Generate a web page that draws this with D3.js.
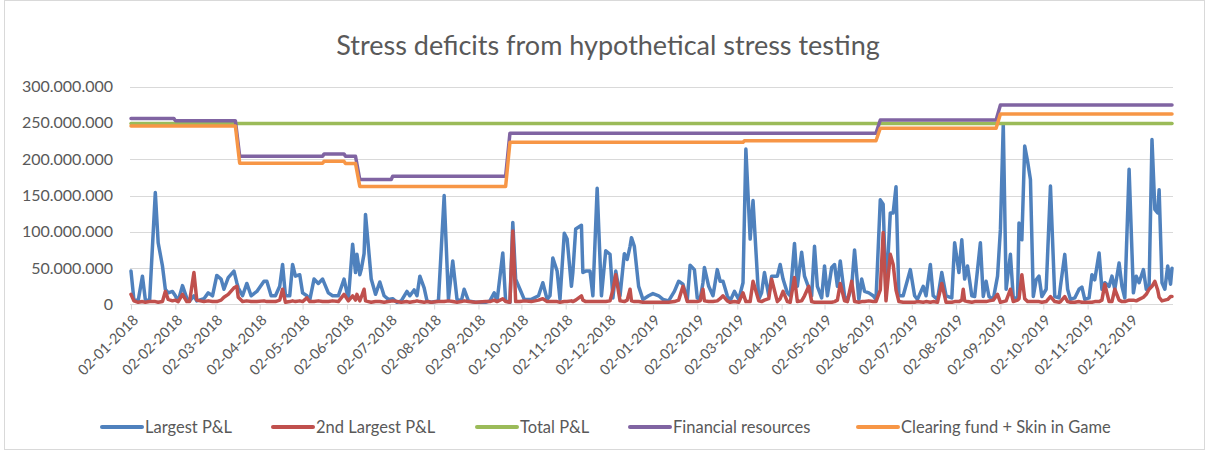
<!DOCTYPE html>
<html>
<head>
<meta charset="utf-8">
<script src="https://cdn.jsdelivr.net/npm/d3@7/dist/d3.min.js"></script>
<style>
  body { margin: 0; background: #fff; }
  text { font-family: Lato, "Open Sans", sans-serif; fill: #595959; }
</style>
</head>
<body>
<div id="chart"></div>
<script>

// daily P&L samples, values in millions
const pnlDates = [
  "2018-01-02","2018-01-04","2018-01-07","2018-01-10","2018-01-12","2018-01-15","2018-01-19","2018-01-21","2018-01-24","2018-01-26","2018-01-28","2018-01-31",
  "2018-02-02","2018-02-04","2018-02-07","2018-02-10","2018-02-12","2018-02-15","2018-02-17","2018-02-22","2018-02-25","2018-02-28",
  "2018-03-03","2018-03-06","2018-03-08","2018-03-11","2018-03-15","2018-03-17","2018-03-18","2018-03-21","2018-03-24","2018-03-27","2018-03-31",
  "2018-04-05","2018-04-07","2018-04-10","2018-04-13","2018-04-16","2018-04-18","2018-04-20","2018-04-23","2018-04-25","2018-04-27","2018-04-30",
  "2018-05-02","2018-05-05","2018-05-07","2018-05-10","2018-05-13","2018-05-16","2018-05-20","2018-05-23","2018-05-27","2018-05-31",
  "2018-06-03","2018-06-06","2018-06-08","2018-06-09","2018-06-11","2018-06-12","2018-06-14","2018-06-15","2018-06-17","2018-06-19","2018-06-22","2018-06-25","2018-06-28",
  "2018-07-01","2018-07-04","2018-07-07","2018-07-10","2018-07-14","2018-07-16","2018-07-19","2018-07-21","2018-07-23","2018-07-26","2018-07-28","2018-07-31",
  "2018-08-05","2018-08-09","2018-08-12","2018-08-15","2018-08-18","2018-08-21","2018-08-23","2018-08-26","2018-08-31",
  "2018-09-07","2018-09-10","2018-09-13","2018-09-15","2018-09-19","2018-09-21","2018-09-24","2018-09-26","2018-09-28",
  "2018-10-01","2018-10-04","2018-10-09","2018-10-14","2018-10-17","2018-10-20","2018-10-22","2018-10-24","2018-10-27","2018-10-29",
  "2018-11-01","2018-11-03","2018-11-06","2018-11-07","2018-11-09","2018-11-13","2018-11-14","2018-11-16","2018-11-19","2018-11-21","2018-11-24","2018-11-27","2018-11-30",
  "2018-12-03","2018-12-05","2018-12-07","2018-12-10","2018-12-13","2018-12-15","2018-12-17","2018-12-18","2018-12-20","2018-12-23","2018-12-26","2018-12-30",
  "2019-01-02","2019-01-06","2019-01-09","2019-01-13","2019-01-17","2019-01-20","2019-01-23","2019-01-26","2019-01-28","2019-01-31",
  "2019-02-02","2019-02-04","2019-02-06","2019-02-07","2019-02-10","2019-02-13","2019-02-16","2019-02-18","2019-02-20","2019-02-23","2019-02-25","2019-02-28",
  "2019-03-03","2019-03-06","2019-03-08","2019-03-11","2019-03-13","2019-03-17","2019-03-19","2019-03-21","2019-03-24","2019-03-26","2019-03-30",
  "2019-04-01","2019-04-03","2019-04-06","2019-04-08","2019-04-11","2019-04-13","2019-04-16","2019-04-18","2019-04-21","2019-04-23","2019-04-25","2019-04-27","2019-04-30",
  "2019-05-02","2019-05-04","2019-05-07","2019-05-09","2019-05-11","2019-05-13","2019-05-16","2019-05-18","2019-05-21","2019-05-23","2019-05-26","2019-05-28","2019-05-30",
  "2019-06-02","2019-06-05","2019-06-07","2019-06-10","2019-06-12","2019-06-14","2019-06-17","2019-06-19","2019-06-21","2019-06-23","2019-06-26",
  "2019-07-01","2019-07-04","2019-07-06","2019-07-10","2019-07-12","2019-07-15","2019-07-17","2019-07-20","2019-07-23","2019-07-26","2019-07-30",
  "2019-08-01","2019-08-04","2019-08-06","2019-08-07","2019-08-08","2019-08-10","2019-08-13","2019-08-15","2019-08-19","2019-08-21","2019-08-23","2019-08-25","2019-08-28","2019-08-31",
  "2019-09-02","2019-09-04","2019-09-06","2019-09-09","2019-09-11","2019-09-14","2019-09-15","2019-09-17","2019-09-19","2019-09-21","2019-09-23","2019-09-25","2019-09-27","2019-09-29",
  "2019-10-01","2019-10-04","2019-10-07","2019-10-10","2019-10-13","2019-10-14","2019-10-17","2019-10-19","2019-10-21","2019-10-24","2019-10-27","2019-10-29","2019-10-31",
  "2019-11-03","2019-11-05","2019-11-07","2019-11-10","2019-11-12","2019-11-14","2019-11-17","2019-11-19","2019-11-21","2019-11-24","2019-11-26","2019-11-28",
  "2019-12-01","2019-12-04","2019-12-06","2019-12-08","2019-12-11","2019-12-13","2019-12-15","2019-12-17","2019-12-19","2019-12-21","2019-12-22","2019-12-24","2019-12-26","2019-12-28","2019-12-30","2019-12-31"
];

const largestPnl = [
  46,7,5,39,7,5,154,85,53,21,16,18,
  12,5,26,9,5,12,5,8,16,12,
  40,35,21,37,46,30,23,12,29,12,18,
  32,32,12,12,25,55,12,12,55,39,41,
  16,12,6,35,29,35,16,12,12,35,
  7,83,44,69,41,48,70,124,80,35,14,31,12,
  7,8,3,5,18,12,20,12,39,23,5,3,
  5,150,7,60,7,5,21,5,3,
  3,5,16,5,71,5,3,113,35,
  21,7,7,12,30,7,12,64,46,7,
  98,90,25,44,104,109,44,46,46,12,160,12,74,
  69,9,46,12,70,62,80,92,80,25,7,12,
  15,12,7,5,18,32,28,6,54,48,
  9,7,30,51,25,12,48,32,32,12,5,18,
  7,30,214,90,143,7,16,44,12,39,39,
  55,35,16,12,84,25,72,39,23,12,80,25,9,
  53,12,51,55,25,60,12,5,25,75,7,35,18,
  16,12,7,144,138,12,126,126,162,12,12,
  48,12,7,25,12,55,12,7,44,12,9,
  85,44,89,60,35,53,12,11,85,11,32,11,7,39,
  103,248,21,69,9,9,112,89,218,197,172,11,34,39,
  11,21,163,11,9,25,69,21,7,9,21,24,7,
  9,41,34,71,21,30,25,39,21,57,25,9,
  186,16,39,30,48,21,25,227,131,126,158,30,21,53,28,50
];

const secondPnl = [
  14,5,3,4,3,4,4,3,4,18,7,5,
  6,4,14,4,4,44,6,4,5,4,
  4,6,10,14,23,25,10,4,5,4,4,
  5,4,4,4,6,21,3,4,5,4,5,
  4,9,4,4,5,4,4,5,4,14,
  5,12,6,14,5,10,21,5,4,3,4,4,3,
  4,5,4,3,4,3,4,5,4,3,4,3,
  4,4,5,4,3,4,5,4,3,
  4,4,6,4,8,4,3,101,4,
  4,5,4,6,8,4,4,4,4,3,
  4,4,5,4,6,12,6,4,4,4,4,4,4,
  5,20,41,5,4,6,21,5,4,4,3,3,
  3,3,3,3,4,6,25,4,4,4,
  4,5,21,5,4,4,5,8,12,5,3,4,
  3,16,4,4,32,5,4,6,8,35,4,
  8,18,4,3,37,4,5,12,25,4,3,3,3,
  3,3,3,4,6,29,5,4,32,4,3,4,4,
  5,4,4,20,99,5,69,55,20,4,3,
  3,3,4,3,4,3,4,3,29,3,3,
  4,4,6,21,5,4,3,4,4,4,4,5,6,14,
  3,4,5,21,4,6,8,41,8,4,4,4,4,4,
  3,4,11,4,3,4,11,4,3,3,4,3,3,
  3,3,4,4,6,28,4,4,21,6,4,4,
  6,6,5,7,10,14,21,25,32,20,10,5,6,7,11,11
];

const totalDates = ["2018-01-02", "2019-12-31"];
const totalPnl = [249, 249];

const resourceDates = ["2018-01-02","2018-02-01","2018-02-02","2018-03-16","2018-03-19","2018-05-16","2018-05-17","2018-05-31","2018-06-01","2018-06-08","2018-06-11","2018-07-03","2018-07-04","2018-09-21","2018-09-24","2019-06-07","2019-06-10","2019-08-30","2019-09-02","2019-12-31"];
const resources = [256,256,253,253,204,204,207,207,204,204,172,172,176.5,176.5,235.6,235.6,254,254,274.5,274.5];

const fundDates = ["2018-01-02","2018-03-16","2018-03-19","2018-05-16","2018-05-17","2018-05-31","2018-06-01","2018-06-08","2018-06-11","2018-09-21","2018-09-24","2019-03-06","2019-03-07","2019-06-07","2019-06-10","2019-08-30","2019-09-02","2019-12-31"];
const fund = [245.6,245.6,194.5,194.5,197,197,194,194,162.5,162.5,223.2,223.2,225.4,225.4,242.5,242.5,262.1,262.1];

const yTicks = [0, 50, 100, 150, 200, 250, 300];
const xTickDates = ["2018-01-02","2018-02-02","2018-03-02","2018-04-02","2018-05-02","2018-06-02","2018-07-02","2018-08-02","2018-09-02","2018-10-02","2018-11-02","2018-12-02",
  "2019-01-02","2019-02-02","2019-03-02","2019-04-02","2019-05-02","2019-06-02","2019-07-02","2019-08-02","2019-09-02","2019-10-02","2019-11-02","2019-12-02"];

const seriesNames = ["Largest P&L", "2nd Largest P&L", "Total P&L", "Financial resources", "Clearing fund + Skin in Game"];
const seriesColors = ["#4f81bd", "#c0504d", "#9bbb59", "#8064a2", "#f79646"];
const legendX = [100, 271, 475, 628, 856];

let w = 1209, h = 450;
let parse = d3.timeParse("%Y-%m-%d");

let svg = d3.select("#chart")
    .append("svg")
    .attr("width", w)
    .attr("height", h);

svg.append("rect")
    .attr("x", 4.5).attr("y", 0.5)
    .attr("width", w - 9).attr("height", h - 1)
    .attr("fill", "#fff")
    .attr("stroke", "#d9d9d9");

let x = d3.scaleTime()
    .domain([parse("2018-01-02"), parse("2019-12-31")])
    .range([131, 1172]);

let y = d3.scaleLinear()
    .domain([0, 300])
    .range([304.5, 86.5]);

let locale = d3.formatLocale({decimal: ",", thousands: ".", grouping: [3], currency: ["", ""]});
let fmt = locale.format(",d");

// gridlines
svg.append("g").selectAll("line")
    .data(yTicks.filter(d => d > 0))
    .enter().append("line")
    .attr("x1", 130).attr("x2", 1173)
    .attr("y1", d => Math.round(y(d)) + 0.5)
    .attr("y2", d => Math.round(y(d)) + 0.5)
    .attr("stroke", "#d9d9d9");

let yAxis = svg.append("g")
    .attr("transform", "translate(130,0)")
    .call(d3.axisLeft(y).tickValues(yTicks).tickSize(0).tickPadding(17).tickFormat(d => fmt(d * 1e6)));
yAxis.select(".domain").remove();
yAxis.selectAll("text").style("font-size", "16px").attr("fill", "#595959");

let xAxis = svg.append("g")
    .attr("transform", "translate(0,304.5)")
    .call(d3.axisBottom(x).tickValues(xTickDates.map(parse)).tickSize(5).tickFormat(d3.timeFormat("%d-%m-%Y")));
xAxis.select(".domain").attr("stroke", "#d9d9d9").attr("d", "M130,0H1173");
xAxis.selectAll(".tick line").attr("stroke", "#d9d9d9");
xAxis.selectAll("text")
    .style("font-size", "14.5px")
    .attr("fill", "#595959")
    .attr("text-anchor", "end")
    .attr("dy", "0.35em")
    .attr("transform", "translate(4,13) rotate(-45)")
    .attr("x", 0).attr("y", 0);

let line = d3.line()
    .x(d => x(d.date))
    .y(d => y(d.value));

let series = [
  {dates: pnlDates, values: largestPnl},
  {dates: pnlDates, values: secondPnl},
  {dates: totalDates, values: totalPnl},
  {dates: resourceDates, values: resources},
  {dates: fundDates, values: fund}
];

svg.append("g").selectAll("path")
    .data(series)
    .enter().append("path")
    .attr("d", s => line(s.dates.map((d, i) => ({date: parse(d), value: s.values[i]}))))
    .attr("fill", "none")
    .attr("stroke", (s, i) => seriesColors[i])
    .attr("stroke-width", 3.5)
    .attr("stroke-linejoin", "round")
    .attr("stroke-linecap", "round");

svg.append("text")
    .attr("x", 608).attr("y", 55)
    .attr("text-anchor", "middle")
    .style("font-size", "27px")
    .text("Stress deficits from hypothetical stress testing");

// legend
let items = svg.append("g")
    .attr("transform", "translate(0,427)")
    .selectAll("g")
    .data(seriesNames)
    .enter().append("g")
    .attr("transform", (d, i) => "translate(" + legendX[i] + ",0)");
items.append("line")
    .attr("x1", 2).attr("x2", 42)
    .attr("y1", 0).attr("y2", 0)
    .attr("stroke", (d, i) => seriesColors[i])
    .attr("stroke-width", 4)
    .attr("stroke-linecap", "round");
items.append("text")
    .attr("x", 45).attr("dy", "0.35em")
    .style("font-size", "16.5px")
    .text(d => d);

</script>
</body>
</html>
